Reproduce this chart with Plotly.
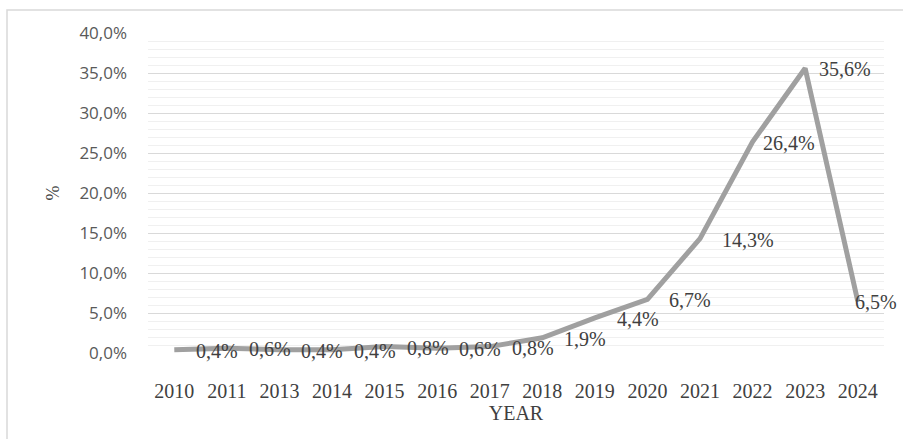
import plotly.graph_objects as go

# Share by year (%)
years = ["2010", "2011", "2013", "2014", "2015", "2016", "2017",
         "2018", "2019", "2020", "2021", "2022", "2023", "2024"]
share = [0.4, 0.6, 0.4, 0.4, 0.8, 0.6, 0.8, 1.9, 4.4, 6.7, 14.3, 26.4, 35.6, 6.5]

y_ticks = [0, 5, 10, 15, 20, 25, 30, 35, 40]


def pct(v):
    return f"{v:.1f}".replace(".", ",") + "%"


labels = [pct(v) for v in share]
y_tick_text = [pct(v) for v in y_ticks]

SERIF = "Liberation Serif, Times New Roman, serif"
SANS = "Open Sans, sans-serif"

# horizontal nudges (px) for labels near the peak
label_nudge = {"2022": 8, "2023": 12, "2024": -5}

fig = go.Figure()
fig.add_trace(go.Scatter(
    x=years,
    y=share,
    mode="lines",
    line=dict(color="#a0a0a0", width=5),
    hoverinfo="skip",
))

# value labels, placed on the category index of each year
annotations = [
    dict(x=i, y=v, xref="x", yref="y", text=t, showarrow=False,
         xanchor="left", yanchor="middle",
         xshift=label_nudge.get(yr, 20), yshift=-1,
         font=dict(family=SERIF, size=20, color="#404040"))
    for i, (yr, v, t) in enumerate(zip(years, share, labels))
]

fig.update_layout(
    width=903,
    height=439,
    margin=dict(l=148, r=19, t=33, b=86),
    paper_bgcolor="white",
    plot_bgcolor="white",
    showlegend=False,
    annotations=annotations,
    xaxis=dict(
        type="category",
        range=[-0.5, len(years) - 0.5],
        showgrid=False,
        showline=False,
        zeroline=False,
        ticks="",
        tickfont=dict(family=SERIF, size=20, color="#404040"),
        ticklabelstandoff=24,
        title=dict(text="YEAR", font=dict(family=SERIF, size=20, color="#404040"),
                   standoff=0),
        automargin=False,
    ),
    yaxis=dict(
        range=[0, 40],
        tickvals=y_ticks,
        ticktext=y_tick_text,
        showgrid=True,
        gridcolor="#d9d9d9",
        gridwidth=1.3,
        zeroline=False,
        showline=False,
        ticks="",
        tickfont=dict(family=SANS, size=17, color="#595959"),
        ticklabelstandoff=20,
        minor=dict(dtick=1, showgrid=True, gridcolor="#f0f0f0", gridwidth=1),
        title=dict(text="%", font=dict(family=SERIF, size=18, color="#404040"),
                   standoff=15),
        automargin=False,
    ),
    shapes=[
        dict(type="rect", xref="paper", yref="paper",
             x0=(7 - 148) / 736, x1=(912 - 148) / 736,
             y0=(353 - 450) / 320, y1=(353 - 10) / 320,
             line=dict(color="#d9d9d9", width=1.5), fillcolor="rgba(0,0,0,0)",
             layer="below"),
    ],
)

fig.write_html("out.html")
